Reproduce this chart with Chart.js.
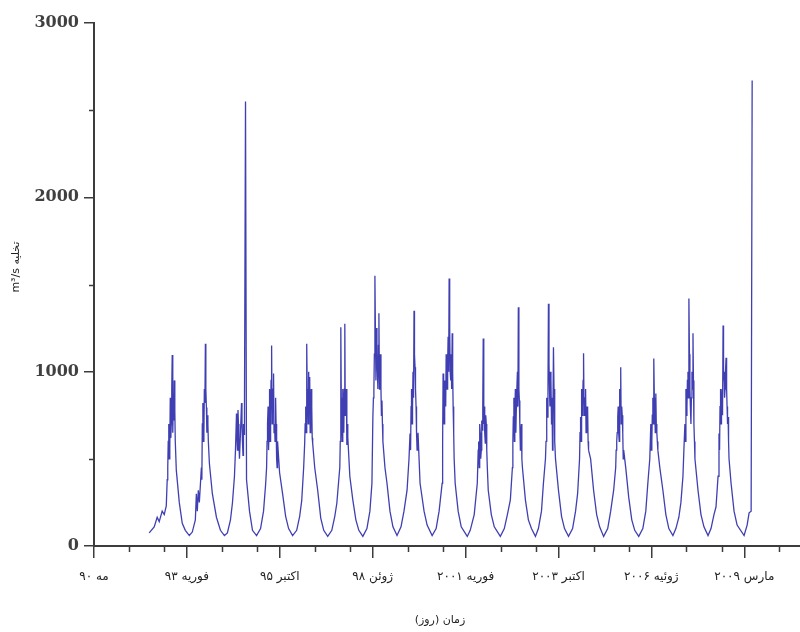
<!DOCTYPE html>
<html>
<head>
<meta charset="utf-8">
<script src="https://cdn.jsdelivr.net/npm/chart.js@4.4.0/dist/chart.umd.min.js"></script>
<style>
  html, body { margin: 0; padding: 0; background: #ffffff; }
  #wrap { width: 800px; height: 632px; position: relative; }
  canvas { direction: rtl; }
</style>
</head>
<body>
<div id="wrap"><canvas id="flow" width="800" height="632"></canvas></div>
<script>
// Daily discharge record, days counted from the start of May 1990 (one line per flood season)
const dayNumbers = [
  594, 648, 680, 702, 734, 756, 778, 788, 794, 799, 805, 810, 816, 821, 827, 832, 837, 842, 848, 853, 859, 864, 870, 875, 886, 918, 950, 983, 1026,
  1058, 1091, 1102, 1112, 1123, 1134, 1156, 1161, 1166, 1172, 1177, 1183, 1188, 1194, 1199, 1204, 1210, 1215, 1220, 1226, 1231, 1242, 1274, 1318, 1361, 1404,
  1436, 1469, 1490, 1512, 1523, 1534, 1539, 1544, 1550, 1555, 1560, 1566, 1577, 1588, 1593, 1598, 1604, 1609, 1615, 1620, 1631, 1642, 1674, 1706, 1750,
  1793, 1825, 1847, 1858, 1863, 1868, 1874, 1879, 1884, 1890, 1895, 1901, 1906, 1912, 1917, 1922, 1928, 1933, 1938, 1944, 1949, 1955, 1960, 1966, 1971, 1976, 1998, 2030, 2063, 2095, 2138,
  2182, 2214, 2236, 2257, 2268, 2273, 2279, 2284, 2290, 2295, 2300, 2306, 2311, 2316, 2322, 2327, 2333, 2338, 2344, 2349, 2354, 2376, 2408, 2441, 2473, 2516,
  2560, 2592, 2614, 2635, 2646, 2651, 2657, 2662, 2668, 2673, 2678, 2684, 2689, 2694, 2700, 2705, 2711, 2716, 2722, 2727, 2732, 2754, 2786, 2819, 2851, 2894,
  2938, 2970, 2992, 3002, 3008, 3013, 3018, 3024, 3030, 3035, 3040, 3046, 3051, 3056, 3062, 3067, 3073, 3078, 3084, 3089, 3094, 3100, 3105, 3110, 3132, 3154, 3186, 3218, 3262,
  3305, 3337, 3370, 3391, 3402, 3408, 3413, 3418, 3424, 3429, 3434, 3440, 3445, 3450, 3456, 3461, 3467, 3472, 3478, 3483, 3488, 3510, 3553, 3586, 3640,
  3683, 3715, 3748, 3753, 3758, 3764, 3769, 3775, 3780, 3786, 3791, 3796, 3802, 3807, 3812, 3818, 3823, 3829, 3834, 3840, 3845, 3850, 3856, 3861, 3866, 3872, 3877, 3888, 3920, 3953, 4018,
  4050, 4093, 4126, 4136, 4141, 4147, 4152, 4158, 4163, 4169, 4174, 4180, 4185, 4190, 4196, 4201, 4206, 4212, 4217, 4223, 4228, 4234, 4244, 4277, 4309, 4374,
  4417, 4450, 4482, 4504, 4509, 4514, 4520, 4525, 4530, 4536, 4541, 4547, 4552, 4558, 4563, 4568, 4574, 4579, 4584, 4590, 4595, 4601, 4606, 4612, 4644, 4676, 4709, 4752,
  4784, 4817, 4838, 4860, 4866, 4871, 4876, 4882, 4887, 4892, 4898, 4903, 4908, 4914, 4919, 4925, 4930, 4936, 4941, 4946, 4952, 4957, 4962, 4968, 5000, 5033, 5065, 5108,
  5152, 5184, 5206, 5227, 5232, 5238, 5243, 5249, 5254, 5260, 5265, 5270, 5276, 5281, 5286, 5292, 5297, 5303, 5308, 5314, 5319, 5324, 5346, 5378, 5411, 5443, 5486,
  5530, 5562, 5594, 5616, 5621, 5627, 5632, 5638, 5643, 5648, 5654, 5659, 5664, 5670, 5675, 5681, 5686, 5692, 5697, 5702, 5724, 5756, 5789, 5821, 5864,
  5908, 5940, 5962, 5983, 5994, 5999, 6005, 6010, 6016, 6021, 6026, 6032, 6037, 6042, 6048, 6053, 6059, 6064, 6070, 6091, 6124, 6156, 6188, 6232,
  6264, 6296, 6318, 6340, 6350, 6361, 6366, 6372, 6377, 6383, 6388, 6394, 6399, 6404, 6410, 6415, 6420, 6426, 6431, 6437, 6442, 6448, 6453, 6458, 6464, 6469, 6502, 6534, 6566, 6610,
  6642, 6674, 6696, 6718, 6728, 6734, 6739, 6745, 6750, 6755, 6761, 6766, 6772, 6777, 6782, 6788, 6793, 6798, 6804, 6810, 6815, 6820, 6826, 6831, 6836, 6858, 6890, 6923, 6998,
  7031, 7052, 7074, 7085
];

// Discharge (m³/s) for each day above
const discharge = [
  75, 110, 165, 140, 200, 180, 230, 380, 450, 600, 700, 500, 560, 850, 620, 700, 900, 1095, 650, 800, 720, 950, 780, 600, 435, 250, 130, 90, 60,
  80, 150, 300, 200, 320, 250, 450, 380, 700, 820, 600, 650, 900, 820, 1160, 900, 795, 650, 750, 700, 600, 475, 300, 165, 90, 60,
  75, 150, 245, 400, 550, 760, 620, 550, 780, 700, 600, 500, 650, 820, 700, 600, 520, 700, 640, 800, 2550, 380, 200, 90, 60,
  100, 200, 350, 450, 600, 700, 800, 550, 650, 900, 600, 750, 950, 1150, 700, 800, 900, 990, 650, 700, 600, 850, 700, 500, 450, 600, 420, 300, 170, 100, 60,
  90, 170, 260, 450, 590, 700, 800, 650, 1160, 900, 850, 700, 1000, 800, 970, 650, 700, 900, 800, 620, 590, 450, 320, 160, 90, 55,
  90, 170, 245, 380, 450, 600, 1255, 850, 700, 600, 900, 800, 650, 900, 1275, 750, 800, 900, 580, 700, 625, 400, 265, 150, 90, 55,
  100, 200, 360, 740, 850, 900, 1100, 1550, 1200, 950, 1250, 1100, 1000, 900, 1150, 1335, 900, 1000, 1100, 900, 750, 835, 700, 600, 450, 360, 200, 110, 60,
  110, 200, 320, 500, 645, 550, 800, 900, 700, 800, 1000, 850, 1350, 1100, 1025, 900, 800, 650, 550, 600, 650, 360, 200, 120, 60,
  100, 200, 360, 600, 990, 800, 700, 950, 850, 800, 1100, 1000, 900, 1050, 1200, 1000, 1535, 1250, 1000, 950, 1100, 900, 1220, 1000, 800, 650, 500, 360, 200, 110, 55,
  90, 180, 360, 550, 600, 450, 700, 650, 500, 550, 720, 665, 800, 1190, 700, 800, 650, 590, 750, 700, 550, 450, 320, 180, 110, 55,
  100, 180, 265, 450, 600, 740, 850, 600, 750, 900, 650, 800, 900, 1000, 800, 1370, 900, 835, 700, 550, 650, 700, 500, 450, 265, 150, 100, 55,
  100, 200, 360, 500, 600, 700, 850, 740, 900, 1390, 1050, 900, 800, 1000, 950, 700, 850, 550, 800, 1140, 900, 700, 600, 500, 320, 170, 100, 55,
  100, 200, 300, 500, 650, 740, 600, 900, 750, 800, 950, 1105, 750, 800, 850, 900, 650, 700, 800, 780, 600, 550, 500, 320, 180, 110, 55,
  100, 200, 320, 450, 550, 600, 650, 740, 800, 650, 600, 900, 800, 1025, 700, 800, 750, 650, 500, 550, 450, 280, 150, 90, 55,
  100, 200, 360, 500, 700, 550, 600, 750, 850, 700, 1075, 850, 750, 650, 875, 700, 650, 600, 550, 450, 320, 180, 100, 60,
  100, 165, 250, 400, 550, 700, 600, 900, 750, 800, 950, 1000, 850, 1420, 1100, 900, 800, 700, 850, 1000, 900, 1220, 950, 700, 600, 500, 320, 180, 110, 60,
  100, 180, 225, 400, 645, 550, 800, 900, 700, 800, 900, 750, 1265, 950, 1000, 850, 900, 1000, 1080, 900, 800, 700, 740, 600, 500, 360, 200, 120, 60,
  120, 190, 200, 2670
];

// Axis ticks
const xMajorTicks = [0, 1000, 2000, 3000, 4000, 5000, 6000, 7000];
const xTickLabels = ['مه ۹۰', 'فوریه ۹۳', 'اکتبر ۹۵', 'ژوئن ۹۸', 'فوریه ۲۰۰۱', 'اکتبر ۲۰۰۳', 'ژوئیه ۲۰۰۶', 'مارس ۲۰۰۹'];
const xMinorTicks = [378, 756, 1378, 1756, 2378, 2756, 3378, 3756, 4378, 4756, 5378, 5756, 6378, 6756, 7378];
const yMajorTicks = [0, 1000, 2000, 3000];
const yMinorTicks = [500, 1500, 2500];

const xTitle = 'زمان (روز)';
const yTitle = 'تخلیه m³/s';

const AXIS = '#3c3c3c';

const points = dayNumbers.map((d, i) => ({ x: d, y: discharge[i] }));

// Short minor ticks and the two axis titles
const axisExtras = {
  id: 'axisExtras',
  afterDraw(chart) {
    const { ctx, chartArea, scales } = chart;
    const xs = scales.x, ys = scales.y;
    ctx.save();
    ctx.strokeStyle = AXIS;
    ctx.lineWidth = 1.5;
    ctx.beginPath();
    xMinorTicks.forEach(v => {
      const px = Math.round(xs.getPixelForValue(v)) + 0.5;
      ctx.moveTo(px, chartArea.bottom);
      ctx.lineTo(px, chartArea.bottom + 6);
    });
    yMinorTicks.forEach(v => {
      const py = Math.round(ys.getPixelForValue(v)) + 0.5;
      ctx.moveTo(chartArea.left, py);
      ctx.lineTo(chartArea.left - 5, py);
    });
    ctx.stroke();

    ctx.fillStyle = '#222';
    ctx.font = '11px "DejaVu Sans"';
    ctx.textAlign = 'center';
    ctx.textBaseline = 'middle';
    ctx.direction = 'rtl';
    ctx.fillText(xTitle, (chartArea.left + chartArea.right) / 2 - 7, 620);
    ctx.translate(16, ys.getPixelForValue(1600));
    ctx.rotate(-Math.PI / 2);
    ctx.fillText(yTitle, 0, 0);
    ctx.restore();
  }
};

new Chart(document.getElementById('flow'), {
  type: 'line',
  data: {
    datasets: [{
      data: points,
      borderColor: 'rgba(36, 36, 168, 0.88)',
      borderWidth: 1.3,
      pointRadius: 0,
      tension: 0,
      fill: false
    }]
  },
  options: {
    responsive: false,
    animation: false,
    devicePixelRatio: 1,
    layout: { padding: { top: 23, right: 0, left: 0, bottom: 0 } },
    plugins: {
      legend: { display: false },
      tooltip: { enabled: false },
      title: { display: false }
    },
    scales: {
      x: {
        type: 'linear',
        min: 0,
        max: 7600,
        afterBuildTicks: s => { s.ticks = xMajorTicks.map(v => ({ value: v })); },
        afterFit: s => { s.height = 86; },
        grid: { display: true, drawOnChartArea: false, drawTicks: true, tickLength: 12, color: AXIS, lineWidth: 1.5 },
        border: { display: true, color: AXIS, width: 2 },
        ticks: {
          autoSkip: false,
          maxRotation: 0,
          padding: 12,
          color: '#222',
          font: { family: 'DejaVu Sans', size: 12 },
          callback: (v, i) => xTickLabels[i]
        }
      },
      y: {
        min: 0,
        max: 3000,
        afterBuildTicks: s => { s.ticks = yMajorTicks.map(v => ({ value: v })); },
        afterFit: s => { s.width = 94; },
        grid: { display: true, drawOnChartArea: false, drawTicks: true, tickLength: 10, color: AXIS, lineWidth: 1.5 },
        border: { display: true, color: AXIS, width: 2 },
        ticks: {
          padding: 5,
          color: '#404040',
          font: { family: 'DejaVu Serif', size: 16, weight: 'bold' },
          callback: v => String(v)
        }
      }
    }
  },
  plugins: [axisExtras]
});
</script>
</body>
</html>
